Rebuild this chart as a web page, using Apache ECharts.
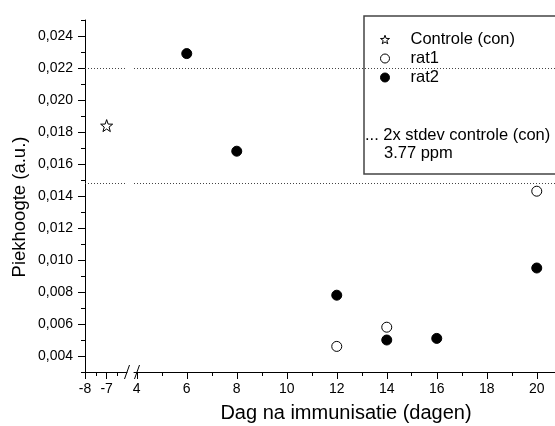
<!DOCTYPE html>
<html>
<head>
<meta charset="utf-8">
<script src="https://cdn.jsdelivr.net/npm/echarts@6/dist/echarts.min.js"></script>
<style>
  html, body { margin: 0; padding: 0; background: #fff; }
  #chart { width: 555px; height: 426px; }
</style>
</head>
<body>
<div id="chart"></div>
<script>
// Peak heights (a.u.) per day after immunisation
const controlDays = [-7];
const controlValues = [0.0184];
const rat1Days = [12, 14, 20];
const rat1Values = [0.0046, 0.0058, 0.0143];
const rat2Days = [6, 8, 12, 14, 16, 20];
const rat2Values = [0.0229, 0.0168, 0.0078, 0.0050, 0.0051, 0.0095];
// Control mean +/- 2x stdev
const controlBand = [0.0220, 0.0148];

// Tick positions
const yMajorTicks = [0.004, 0.006, 0.008, 0.010, 0.012, 0.014, 0.016, 0.018, 0.020, 0.022, 0.024];
const yMinorTicks = [0.003, 0.005, 0.007, 0.009, 0.011, 0.013, 0.015, 0.017, 0.019, 0.021, 0.023, 0.025];
const xLeftMajor = [-8, -7];
const xLeftMinor = [-7.5, -6.5];
const xRightMajor = [4, 6, 8, 10, 12, 14, 16, 18, 20];
const xRightMinor = [5, 7, 9, 11, 13, 15, 17, 19];

const FONT = 'Liberation Sans, Arial, sans-serif';
const TOP = 20, BOTTOM = 54;
const LEFT_X = 85, LEFT_W = 42;
const RIGHT_X = 134;
const AXIS_Y = 426 - BOTTOM;

const STAR = 'path://M0,-10L2.35,-3.24L9.51,-3.09L3.8,1.24L5.88,8.09L0,4.2L-5.88,8.09L-3.8,1.24L-9.51,-3.09L-2.35,-3.24Z';

const pairs = (xs, ys) => xs.map((x, i) => [x, ys[i]]);
const fmtY = v => v.toFixed(3).replace('.', ',');

function valueAxis(grid, min, max, extra) {
  return Object.assign({
    type: 'value', gridIndex: grid, min: min, max: max,
    splitLine: { show: false },
    axisLine: { show: false },
    axisTick: { show: false },
    axisLabel: { show: false }
  }, extra);
}

const lineStyle = { color: '#000', width: 1 };
const tickMajor = vals => ({ show: true, length: 7, lineStyle: lineStyle, customValues: vals });
const tickMinor = vals => ({ show: true, length: 4, lineStyle: lineStyle, customValues: vals });
const labelStyle = { color: '#000', fontFamily: FONT, fontSize: 14 };

const hollow = { color: '#fff', borderColor: '#000', borderWidth: 1, opacity: 1 };
const filled = { color: '#000', borderColor: '#000', borderWidth: 1, opacity: 1 };

const bandLine = {
  silent: true,
  precision: 4,
  symbol: ['none', 'none'],
  label: { show: false },
  lineStyle: { color: '#444', width: 1, type: [1, 2] },
  data: controlBand.map(v => ({ yAxis: v }))
};

const option = {
  animation: false,
  backgroundColor: '#fff',
  grid: [
    { left: LEFT_X, top: TOP, width: LEFT_W, bottom: BOTTOM },
    { left: RIGHT_X, top: TOP, right: 0, bottom: BOTTOM }
  ],
  xAxis: [
    valueAxis(0, -8, -6.06, {
      position: 'bottom',
      axisLine: { show: true, lineStyle: lineStyle },
      axisTick: tickMajor(xLeftMajor),
      axisLabel: Object.assign({ show: true, margin: 10, customValues: xLeftMajor }, labelStyle)
    }),
    valueAxis(0, -8, -6.06, { position: 'bottom', axisTick: tickMinor(xLeftMinor) }),
    valueAxis(1, 3.89, 20.73, {
      position: 'bottom',
      axisLine: { show: true, lineStyle: lineStyle },
      axisTick: tickMajor(xRightMajor),
      axisLabel: Object.assign({ show: true, margin: 10, customValues: xRightMajor }, labelStyle)
    }),
    valueAxis(1, 3.89, 20.73, { position: 'bottom', axisTick: tickMinor(xRightMinor) })
  ],
  yAxis: [
    valueAxis(0, 0.003, 0.025, {
      position: 'left',
      axisLine: { show: true, lineStyle: lineStyle },
      axisTick: tickMajor(yMajorTicks),
      axisLabel: Object.assign({ show: true, margin: 12, customValues: yMajorTicks, formatter: fmtY }, labelStyle)
    }),
    valueAxis(0, 0.003, 0.025, { position: 'left', axisTick: tickMinor(yMinorTicks) }),
    valueAxis(1, 0.003, 0.025, { show: false })
  ],
  legend: {
    orient: 'vertical',
    left: 364, top: 16,
    padding: [14, 200, 87, 16],
    itemWidth: 9, itemHeight: 9, itemGap: 0,
    backgroundColor: '#fff',
    borderColor: '#444', borderWidth: 1.5,
    selectedMode: false,
    textStyle: { color: '#000', fontFamily: FONT, fontSize: 16.5, lineHeight: 19, padding: [0, 0, 0, 16] },
    data: [
      { name: 'Controle (con)', icon: STAR, itemStyle: hollow },
      { name: 'rat1', icon: 'circle', itemStyle: hollow },
      { name: 'rat2', icon: 'circle', itemStyle: filled }
    ]
  },
  graphic: [
    { type: 'text', x: 346, y: 413, z: 10,
      style: { text: 'Dag na immunisatie (dagen)', font: '20px ' + FONT, fill: '#000', align: 'center', verticalAlign: 'middle' } },
    { type: 'text', x: 20, y: 207, z: 10, rotation: Math.PI / 2,
      style: { text: 'Piekhoogte (a.u.)', font: '18.5px ' + FONT, fill: '#000', align: 'center', verticalAlign: 'middle' } },
    { type: 'text', x: 365, y: 135, z: 10,
      style: { text: '... 2x stdev controle (con)', font: '16.5px ' + FONT, fill: '#000', align: 'left', verticalAlign: 'middle' } },
    { type: 'text', x: 384, y: 153, z: 10,
      style: { text: '3.77 ppm', font: '16.5px ' + FONT, fill: '#000', align: 'left', verticalAlign: 'middle' } },
    // axis break marks
    { type: 'line', z: 10, shape: { x1: LEFT_X + LEFT_W - 2.5, y1: AXIS_Y + 7, x2: LEFT_X + LEFT_W + 2.5, y2: AXIS_Y - 7 },
      style: { stroke: '#000', lineWidth: 1 } },
    { type: 'line', z: 10, shape: { x1: RIGHT_X + 0.5, y1: AXIS_Y + 7, x2: RIGHT_X + 5.5, y2: AXIS_Y - 7 },
      style: { stroke: '#000', lineWidth: 1 } }
  ],
  series: [
    {
      name: 'Controle (con)', type: 'scatter', xAxisIndex: 0, yAxisIndex: 0,
      symbol: STAR, symbolSize: 12,
      itemStyle: hollow,
      data: pairs(controlDays, controlValues),
      markLine: bandLine
    },
    {
      name: 'rat1', type: 'scatter', xAxisIndex: 2, yAxisIndex: 2,
      symbol: 'circle', symbolSize: 10,
      itemStyle: hollow,
      data: pairs(rat1Days, rat1Values)
    },
    {
      name: 'rat2', type: 'scatter', xAxisIndex: 2, yAxisIndex: 2,
      symbol: 'circle', symbolSize: 10,
      itemStyle: filled,
      data: pairs(rat2Days, rat2Values),
      markLine: bandLine
    }
  ]
};

const chart = echarts.init(document.getElementById('chart'), null, { renderer: 'canvas' });
chart.setOption(option);
</script>
</body>
</html>
